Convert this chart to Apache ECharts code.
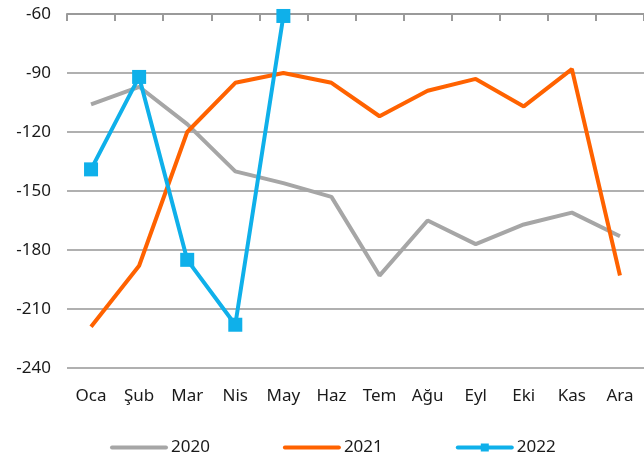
<!DOCTYPE html>
<html><head><meta charset="utf-8">
<script src="https://cdn.jsdelivr.net/npm/echarts@6/dist/echarts.min.js"></script>
<style>html,body{margin:0;padding:0;background:#fff}#c{width:644px;height:461px}</style>
</head><body><div id="c"></div>
<script>
const months = ['Oca','Şub','Mar','Nis','May','Haz','Tem','Ağu','Eyl','Eki','Kas','Ara'];
const yTicks = [-60,-90,-120,-150,-180,-210,-240];
const s2020 = [-106,-97,-116,-140,-146,-153,-193,-165,-177,-167,-161,-173];
const s2021 = [-219,-188,-120,-95,-90,-95,-112,-99,-93,-107,-88,-193];
const s2022 = [-139,-92,-185,-218,-61,null,null,null,null,null,null,null];

const FONT = 'Noto Sans';
const chart = echarts.init(document.getElementById('c'));
chart.setOption({
  animation:false,
  textStyle:{fontFamily:FONT},
  grid:{left:67,right:-1,top:14,bottom:93,containLabel:false},
  xAxis:[
    {type:'category',data:months,position:'top',boundaryGap:true,
     axisLine:{show:true,lineStyle:{color:'#9a9a9a',width:2}},
     axisTick:{show:true,inside:true,length:7,lineStyle:{color:'#9a9a9a',width:2}},
     axisLabel:{show:false},splitLine:{show:false}},
    {type:'category',data:months,position:'bottom',boundaryGap:true,
     axisLine:{show:false},axisTick:{show:false},
     axisLabel:{show:true,color:'#1a1a1a',fontSize:17,margin:20,fontFamily:FONT},splitLine:{show:false}}
  ],
  yAxis:{type:'value',min:yTicks[yTicks.length-1],max:yTicks[0],interval:30,
    axisLine:{show:false},axisTick:{show:false},
    axisLabel:{color:'#1a1a1a',fontSize:17,margin:16,fontFamily:FONT},
    splitLine:{show:true,lineStyle:{color:'#b0b0b0',width:2}}},
  legend:{bottom:0,left:105,itemWidth:54,itemHeight:10,itemGap:73,
    textStyle:{color:'#1a1a1a',fontSize:17,fontFamily:FONT},
    lineStyle:{width:4,cap:'round'},
    data:[
      {name:'2020',itemStyle:{opacity:0}},
      {name:'2021',itemStyle:{opacity:0}},
      {name:'2022'}
    ]},
  series:[
    {name:'2020',type:'line',xAxisIndex:1,data:s2020,symbol:'none',
     lineStyle:{color:'#a6a6a6',width:4},itemStyle:{color:'#a6a6a6'},z:2},
    {name:'2021',type:'line',xAxisIndex:1,data:s2021,symbol:'none',
     lineStyle:{color:'#ff6200',width:4},itemStyle:{color:'#ff6200'},z:3},
    {name:'2022',type:'line',xAxisIndex:1,data:s2022,symbol:'rect',symbolSize:14,
     lineStyle:{color:'#0fb0ea',width:4},itemStyle:{color:'#0fb0ea'},z:4}
  ]
});
</script></body></html>
